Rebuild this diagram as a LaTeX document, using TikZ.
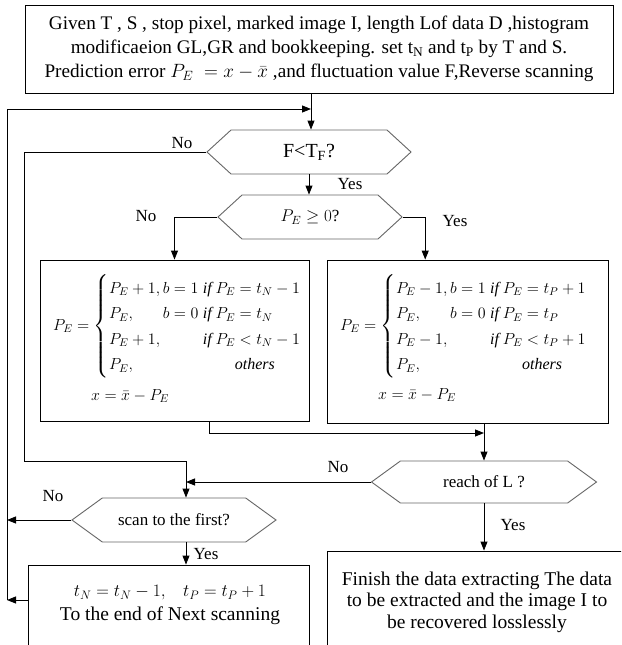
\RequirePackage{fix-cm}
\documentclass[tikz,border=0pt]{standalone}
\usepackage{amsmath}
\usepackage{fontspec}
\setmainfont{Liberation Serif}
\usetikzlibrary{calc,arrows.meta,positioning,shapes.symbols}

\begin{document}
\begin{tikzpicture}[x=1pt,y=-1pt,
    box/.style={draw, line width=0.9pt, inner sep=0pt},
    decision/.style={draw=black!60, line width=0.9pt, signal, signal to=east and west,
        signal pointer angle=#1, inner sep=0pt, font=\fontsize{17}{20}\selectfont},
    decision/.default=85,
    arr/.style={-{Triangle[length=9pt,width=7pt]}, line width=0.9pt},
    yn/.style={font=\fontsize{17}{20}\selectfont},
    formula/.style={anchor=west, inner sep=0pt, font=\fontsize{16}{25.5}\selectfont}
]
    \fill[white] (0,0) rectangle (621,645);
    \useasboundingbox (0,0) rectangle (621,645);
    \clip (0,0) rectangle (621,645);
    % boxes
    \node[box, minimum width=588pt, minimum height=88pt, align=center,
        font=\fontsize{19.2}{24}\selectfont] (given) at (319,49)
        {Given T , S , stop pixel, marked image I, length Lof data D ,histogram\\
         modificaeion GL,GR and bookkeeping. set t\textsubscript{N} and t\textsubscript{P} by T and S.\\
         Prediction error $P_E\;=x-\bar{x}$ ,and fluctuation value F,Reverse scanning};
    \node[decision] (F) at (309,152) [minimum width=204pt, minimum height=44pt]
        {\fontsize{20}{20}\selectfont F<T\textsubscript{F}?};
    \node[decision] (P) at (310,217) [minimum width=184pt, minimum height=44pt] {$P_E\geq 0$?};
    \node[box, minimum width=269pt, minimum height=161pt] (neg) at (174.5,340.5) {};
    \node[formula] (negcases) at (53,326.5)
        {$P_E=\left\{\begin{array}{@{}l@{\,}l@{\;}l@{}}
            P_E+1, & b=1 & \mathit{if}\ P_E=t_N-1\\
            P_E, & b=0 & \mathit{if}\ P_E=t_N\\
            P_E+1, & & \mathit{if}\ P_E<t_N-1\\
            P_E, & & \qquad \mathit{others}
         \end{array}\right.$};
    \node[formula] (negx) at (91,396) {$x=\bar{x}-P_E$};
    \node[box, minimum width=281pt, minimum height=163pt] (pos) at (467.5,341.5) {};
    \node[formula] (poscases) at (340,326.5)
        {$P_E=\left\{\begin{array}{@{}l@{\,}l@{\;}l@{}}
            P_E-1, & b=1 & \mathit{if}\ P_E=t_P+1\\
            P_E, & b=0 & \mathit{if}\ P_E=t_P\\
            P_E-1, & & \mathit{if}\ P_E<t_P+1\\
            P_E, & & \qquad \mathit{others}
         \end{array}\right.$};
    \node[formula] (posx) at (378,395) {$x=\bar{x}-P_E$};
    \node[decision=72] (reach) at (484,482) [minimum width=225pt, minimum height=42pt] {reach of L ?};
    \node[decision=72] (scan) at (174,520) [minimum width=204pt, minimum height=44pt] {scan to the first?};
    \node[box, minimum width=281pt, minimum height=100pt] (next) at (168.5,615) {};
    \node[align=center, font=\fontsize{19.5}{24}\selectfont] (nexttext) at (170,605)
        {\fontsize{17.5}{24}\selectfont$t_N=t_N-1,\;\;\; t_P=t_P+1$\\ To the end of Next scanning};
    \node[box, minimum width=313pt, minimum height=114pt] (finish) at (483.5,608) {};
    \node[align=center, font=\fontsize{19.5}{21.5}\selectfont] (finishtext) at (477,602)
        {Finish the data extracting The data\\ to be extracted and the image I to\\ be recovered losslessly};
    % helper points
    \coordinate (ret) at (7,600);
    \coordinate (top) at (311,109);
    \coordinate (nocorner) at (24,461);
    \coordinate (scanin) at (186,480);
    \coordinate (join) at (484,433);
    % connectors
    \draw[arr] (given.south -| top) -- (F.north -| top);
    \draw[arr] (ret) |- (top);
    \draw[arr] (F.south) -- (F.south |- P.north);
    \draw[arr] (P.west) -| (neg.north);
    \draw[arr] (P.east) -| ($(pos.north west)!0.35!(pos.north east)$);
    \draw[arr] ([xshift=35pt]neg.south) |- (join);
    \draw[arr] (pos.south -| join) -- (reach.north);
    \draw[arr] (reach.west) -- (reach.west -| scanin);
    \draw[arr] (F.west) -| (nocorner) -| (scan.north -| scanin);
    \draw[arr] (scan.south -| scanin) -- (next.north -| scanin);
    \draw[arr] (scan.west) -- (scan.west -| ret);
    \draw[arr] (ret -| next.west) -- (ret);
    \draw[arr] (reach.south) -- (finish.north -| reach.south);
    % labels
    \node[yn] (noF) at (182,143) {No};
    \node[yn] (yesF) at (350,184) {Yes};
    \node[yn] (noP) at (146,216) {No};
    \node[yn] (yesP) at (455,221) {Yes};
    \node[yn] (noR) at (338,467) {No};
    \node[yn] (yesR) at (513,525) {Yes};
    \node[yn] (noS) at (53,496) {No};
    \node[yn] (yesS) at (206,554) {Yes};
\end{tikzpicture}
\end{document}
